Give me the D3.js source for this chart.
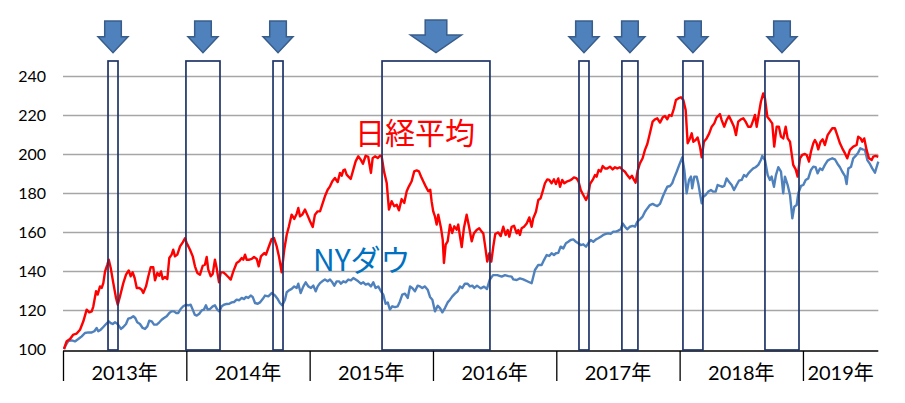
<!DOCTYPE html>
<html><head><meta charset="utf-8">
<script src="https://cdn.jsdelivr.net/npm/d3@7"></script>
<style>html,body{margin:0;padding:0;background:#fff;}svg{display:block;}</style>
</head><body>
<svg id="chart" width="905" height="403"></svg>
<script>
// ---- data ----
const yTicks = [100, 120, 140, 160, 180, 200, 220, 240];
const yearStarts = [2013, 2014, 2015, 2016, 2017, 2018, 2019];
const yearLabels = ["2013年", "2014年", "2015年", "2016年", "2017年", "2018年", "2019年"];
const seriesNames = ["日経平均", "NYダウ"];
const dataEnd = 2019.611;

const nikkeiT = [2013.008,2013.030,2013.057,2013.084,2013.111,2013.138,2013.165,2013.192,2013.213,2013.233,2013.246,2013.268,2013.281,2013.300,2013.314,2013.327,2013.341,2013.359,2013.371,2013.387,2013.408,2013.430,2013.444,2013.462,2013.489,2013.511,2013.533,2013.549,2013.565,2013.581,2013.598,2013.619,2013.638,2013.651,2013.673,2013.692,2013.711,2013.732,2013.746,2013.765,2013.781,2013.795,2013.808,2013.827,2013.846,2013.862,2013.881,2013.894,2013.908,2013.927,2013.949,2013.971,2013.989,2014.003,2014.030,2014.052,2014.070,2014.089,2014.111,2014.133,2014.151,2014.165,2014.178,2014.198,2014.214,2014.232,2014.246,2014.265,2014.279,2014.300,2014.322,2014.340,2014.360,2014.381,2014.408,2014.429,2014.449,2014.462,2014.476,2014.489,2014.511,2014.530,2014.549,2014.571,2014.587,2014.605,2014.619,2014.632,2014.646,2014.665,2014.692,2014.711,2014.733,2014.751,2014.773,2014.794,2014.814,2014.832,2014.854,2014.875,2014.895,2014.908,2014.922,2014.940,2014.962,2014.984,2015.003,2015.025,2015.043,2015.065,2015.084,2015.102,2015.124,2015.146,2015.165,2015.184,2015.205,2015.227,2015.246,2015.260,2015.273,2015.286,2015.300,2015.313,2015.333,2015.354,2015.373,2015.394,2015.414,2015.432,2015.454,2015.475,2015.497,2015.511,2015.530,2015.552,2015.570,2015.584,2015.603,2015.625,2015.643,2015.665,2015.686,2015.706,2015.724,2015.746,2015.767,2015.787,2015.805,2015.827,2015.848,2015.868,2015.886,2015.903,2015.921,2015.941,2015.962,2015.978,2015.989,2016.002,2016.016,2016.030,2016.043,2016.065,2016.079,2016.089,2016.103,2016.119,2016.138,2016.156,2016.173,2016.192,2016.205,2016.219,2016.233,2016.251,2016.273,2016.292,2016.314,2016.332,2016.354,2016.375,2016.395,2016.408,2016.422,2016.440,2016.457,2016.473,2016.489,2016.505,2016.529,2016.549,2016.570,2016.589,2016.606,2016.619,2016.638,2016.657,2016.679,2016.692,2016.705,2016.719,2016.738,2016.760,2016.781,2016.800,2016.813,2016.835,2016.854,2016.873,2016.889,2016.908,2016.927,2016.943,2016.962,2016.981,2016.997,2017.016,2017.030,2017.048,2017.065,2017.084,2017.106,2017.125,2017.143,2017.165,2017.181,2017.198,2017.219,2017.241,2017.259,2017.273,2017.295,2017.314,2017.327,2017.343,2017.360,2017.376,2017.395,2017.413,2017.435,2017.457,2017.476,2017.494,2017.516,2017.538,2017.557,2017.575,2017.597,2017.613,2017.630,2017.643,2017.660,2017.678,2017.700,2017.719,2017.738,2017.759,2017.781,2017.800,2017.819,2017.841,2017.863,2017.881,2017.900,2017.916,2017.935,2017.954,2017.970,2017.989,2018.011,2018.030,2018.049,2018.065,2018.084,2018.098,2018.111,2018.130,2018.146,2018.165,2018.179,2018.197,2018.219,2018.240,2018.260,2018.281,2018.300,2018.313,2018.327,2018.341,2018.362,2018.381,2018.400,2018.422,2018.441,2018.457,2018.475,2018.497,2018.516,2018.535,2018.556,2018.578,2018.597,2018.611,2018.625,2018.643,2018.659,2018.678,2018.692,2018.711,2018.732,2018.751,2018.767,2018.787,2018.805,2018.822,2018.840,2018.860,2018.876,2018.895,2018.908,2018.921,2018.941,2018.957,2018.976,2018.994,2019.016,2019.030,2019.049,2019.065,2019.084,2019.097,2019.111,2019.124,2019.143,2019.160,2019.178,2019.200,2019.219,2019.238,2019.259,2019.278,2019.300,2019.319,2019.341,2019.359,2019.381,2019.408,2019.435,2019.448,2019.468,2019.481,2019.497,2019.516,2019.535,2019.557,2019.570,2019.589,2019.611];
const nikkeiV = [100,104,105.1,107.4,107.9,109.9,114.2,120.2,118.8,119.3,121.9,129.6,127.9,132.1,131.3,133.8,139.8,143.2,145.8,141.5,133.8,126.2,122.7,127,133.8,138.1,140.3,137.3,139.3,136.4,131.3,131.3,130.4,128.7,132.1,137.3,141.9,141.9,135.2,139,137.6,139.8,135.9,136.9,135.9,146.7,148.4,150.9,147.5,148.4,152.6,154.7,156.8,154.4,150.9,147.5,142.4,139,138.1,142.7,143.2,147.2,140.7,137.3,138.5,145.8,141.5,134.2,139.3,139.3,138.1,136.9,135.6,139.8,144.1,145,146.7,145.8,148.4,145.8,145.8,146.2,147.2,146.2,142.4,147.5,148.4,149.2,148.4,151.8,156.4,156.9,152.6,147.5,139.3,150.9,158.6,162.9,168.9,166.7,169.4,172.3,168,168.9,171.5,168.4,165.5,162.6,168.9,170.6,170.6,174,178.3,181.7,183.4,186,187.7,185.6,190.3,188.9,191.6,192,189.4,188.5,187.2,192,196.2,198.8,197.1,195,199.1,198.5,190.3,197.9,198.8,197.9,199.1,198.8,191.1,185.1,171.5,175.8,173.2,174,171.1,176.9,174.9,180.9,183.4,186,191.1,191.6,191.1,188.5,186,183.4,180.9,181.7,175.7,170.6,168,163.8,168.9,162.1,156.1,144.1,153.5,155.2,163.8,159.5,162.9,161.2,163.8,157.8,152.3,162.1,168.9,162.9,155.2,159.3,161,161.9,160.2,159.3,153.3,144.8,149.1,144.8,152.5,159,159.8,157.9,162.7,158.5,161,157.6,162.7,163.2,159.3,161,158.5,161.9,162.7,164.4,167.5,162.7,167,170.4,176.4,177.3,180.7,185,187,186.7,185,187,184.6,187.5,183.2,186.7,185,185.8,186.3,187,188,187.5,185.8,181.5,179,176.4,179,184.6,186.7,189.2,188.4,191.8,191,193.8,192.6,192.6,193.5,192.1,193.2,192.6,193.2,191.8,190.9,189.2,187.5,188.9,186.7,185.3,191.5,195.2,197.8,202.1,205.1,210.6,216.6,217.8,218.3,216.1,218.8,219.5,217.8,220,219.5,223.4,227.7,228.5,229.1,227.7,222.6,205.5,208,210.6,206.3,207.2,208.5,203.8,198.3,206.3,208,210.6,214,215.7,218.8,219.5,220.5,217.4,214,217.4,219.5,216.6,214,209.7,216.6,217.8,218.3,216.6,214,214,217.4,220,214,220.9,226.8,231.1,228.5,219.1,217.4,215.7,203.8,214,214,208.9,208,214,208,206.3,200.3,194.4,192.1,188.4,197.8,199.5,200,199.5,196.1,201.2,205.5,207.2,205.5,202.4,206.3,207.5,204.6,209.7,211.5,213.2,213.2,209.7,205.5,202.9,200.3,197.8,202.1,203.8,204.6,208.9,208,206.3,208,202.1,197.8,196.9,198.6,199,198.6];

const dowT = [2013.008,2013.024,2013.043,2013.071,2013.097,2013.124,2013.152,2013.178,2013.205,2013.233,2013.254,2013.273,2013.286,2013.306,2013.327,2013.349,2013.371,2013.387,2013.403,2013.422,2013.440,2013.456,2013.470,2013.489,2013.511,2013.529,2013.549,2013.570,2013.586,2013.602,2013.624,2013.646,2013.665,2013.684,2013.700,2013.719,2013.738,2013.760,2013.781,2013.800,2013.819,2013.841,2013.862,2013.881,2013.900,2013.916,2013.935,2013.954,2013.975,2013.997,2014.016,2014.035,2014.052,2014.068,2014.084,2014.105,2014.125,2014.143,2014.159,2014.173,2014.192,2014.214,2014.232,2014.251,2014.267,2014.287,2014.305,2014.327,2014.348,2014.368,2014.387,2014.408,2014.429,2014.449,2014.468,2014.484,2014.502,2014.522,2014.538,2014.557,2014.579,2014.597,2014.619,2014.638,2014.665,2014.692,2014.719,2014.741,2014.759,2014.778,2014.800,2014.814,2014.832,2014.854,2014.875,2014.895,2014.908,2014.927,2014.949,2014.968,2014.989,2015.011,2015.030,2015.049,2015.065,2015.084,2015.102,2015.124,2015.146,2015.165,2015.184,2015.200,2015.219,2015.238,2015.254,2015.273,2015.292,2015.313,2015.335,2015.354,2015.373,2015.394,2015.416,2015.435,2015.454,2015.475,2015.497,2015.516,2015.535,2015.556,2015.578,2015.597,2015.616,2015.633,2015.651,2015.670,2015.692,2015.714,2015.732,2015.751,2015.773,2015.795,2015.814,2015.832,2015.854,2015.876,2015.895,2015.913,2015.935,2015.957,2015.976,2015.995,2016.016,2016.038,2016.057,2016.076,2016.097,2016.119,2016.138,2016.157,2016.178,2016.200,2016.219,2016.238,2016.259,2016.281,2016.300,2016.319,2016.335,2016.357,2016.387,2016.414,2016.438,2016.460,2016.487,2016.522,2016.557,2016.584,2016.611,2016.638,2016.651,2016.679,2016.705,2016.732,2016.773,2016.800,2016.827,2016.854,2016.881,2016.900,2016.922,2016.943,2016.962,2016.981,2016.997,2017.016,2017.035,2017.057,2017.078,2017.097,2017.116,2017.138,2017.159,2017.178,2017.198,2017.219,2017.241,2017.259,2017.279,2017.300,2017.322,2017.340,2017.360,2017.381,2017.403,2017.421,2017.441,2017.462,2017.484,2017.502,2017.522,2017.538,2017.557,2017.575,2017.597,2017.619,2017.638,2017.657,2017.678,2017.700,2017.719,2017.738,2017.759,2017.781,2017.800,2017.819,2017.841,2017.863,2017.881,2017.900,2017.922,2017.940,2017.954,2017.976,2017.997,2018.022,2018.038,2018.057,2018.076,2018.092,2018.102,2018.119,2018.138,2018.151,2018.165,2018.179,2018.192,2018.211,2018.232,2018.254,2018.273,2018.292,2018.308,2018.327,2018.346,2018.362,2018.381,2018.400,2018.422,2018.441,2018.462,2018.481,2018.503,2018.522,2018.540,2018.557,2018.578,2018.597,2018.616,2018.638,2018.659,2018.670,2018.692,2018.714,2018.732,2018.746,2018.765,2018.781,2018.800,2018.822,2018.840,2018.854,2018.876,2018.895,2018.914,2018.930,2018.949,2018.962,2018.984,2019.003,2019.022,2019.043,2019.065,2019.084,2019.103,2019.119,2019.138,2019.157,2019.178,2019.200,2019.219,2019.238,2019.259,2019.281,2019.300,2019.319,2019.341,2019.354,2019.368,2019.390,2019.408,2019.427,2019.448,2019.465,2019.484,2019.503,2019.522,2019.543,2019.562,2019.584,2019.597,2019.611];
const dowV = [100,102.2,104,104.4,103.9,105.1,106.5,108.2,108.5,108.5,109.1,110.8,109.1,109.9,111.3,112.8,114.2,113.3,112.8,113.7,113,111.6,110.3,111.3,112.8,115.6,115.9,116.8,115.9,113.7,112.8,110.8,110.3,111.6,114.5,114.2,112.5,112.5,113.7,115,115.9,116.8,118.5,119.3,119.3,118.5,118.5,120.5,121.9,122.7,122.4,122.7,120.2,117.6,117.1,118.1,119.8,120.2,122.4,120.2,120.5,121.9,122.4,120.2,119.3,121.9,122.7,123.1,123.2,123.9,124.1,125.3,125,126.2,125.6,126.7,126.2,127.4,126.7,123.6,123.2,123.9,125.6,127.4,127,128.7,127.4,125.6,123.6,122.4,125.3,129.1,130.1,130.8,132.1,131.3,133.5,128.7,132.1,134.2,132.1,131.3,132.5,129.6,132.1,133.8,134.7,135.6,134.7,135.6,134.2,132.5,134.7,134.7,133.5,134.7,134.2,135.6,135.2,136.4,135.6,134.7,133.5,134.2,133,133.5,132.1,134.2,131.3,132.1,129.6,127.9,123.2,123.9,120.2,121.9,121.5,121.9,124.4,127.9,128.4,126.2,132.1,131.3,129.6,132.5,132.1,131.3,132.1,130.4,126.7,125.3,119.3,122.2,121,118.8,121,123.9,125.3,127,128.4,129.6,132.1,131.3,133.5,133.5,132.1,132.5,131.3,132.5,131.1,132,130.8,135.5,137.9,137.9,137.1,137.9,137.4,137.1,135.7,135.4,136.2,135.7,134.5,133.7,140.5,143.1,143.1,145.6,148.2,147.7,149.1,148.2,149.1,149.3,152.5,151.6,154.2,155,155.9,156.2,155,154.2,153.3,153.7,152.5,154.2,155.9,155,156.2,156.8,157.6,158.5,159,159.3,159,160.2,160.2,160.7,161.4,164.4,162.7,161.4,162.7,163.1,162.7,165.3,166.5,167.9,170.4,172.1,173.8,174.4,173.8,173.3,174.4,178.1,180.7,183.2,183.6,185,187.5,190.9,194.4,198.3,191.8,179.8,186.7,188.4,182.4,188.4,188.4,185,179.8,174.7,178.1,179,180.7,181.5,180.7,180.7,184.1,183.6,183.2,183.6,187.5,185.8,184.1,181.5,184.1,186.3,186.7,189.2,188.4,190.1,191.5,192.6,193.2,194.4,196.9,199,196.9,189.2,186.7,188.4,183.2,189.2,193.2,191,179.8,188.4,184.1,179,167,173,173.8,179.8,183.6,184.1,186.7,187.5,191.8,193.5,193.2,190.1,192.6,191.8,194.4,196.6,197.3,197.8,197.3,194.9,193.2,190.9,188.7,184.6,192.6,193.5,197.8,199,200.7,202.9,202.4,202.1,196.9,194.9,192.6,190.4,193.2,196.1];

// highlighted periods (start, end in decimal years)
const periodStart = [2013.365, 2013.997, 2014.703, 2015.587, 2017.184, 2017.532, 2018.027, 2018.692];
const periodEnd   = [2013.446, 2014.273, 2014.784, 2016.462, 2017.265, 2017.662, 2018.189, 2018.968];

(function () {
// ---- chart ----
const svg = d3.select("#chart");
const pLeft = 63, pRight = 878.3, pTop = 76, pBottom = 349;
const x = d3.scaleLinear().domain([2013, dataEnd]).range([pLeft, pRight]);
const y = d3.scaleLinear().domain([100, 240]).range([pBottom, pTop]);
const latin = "Lato, 'Noto Sans CJK JP', sans-serif";

// gridlines
svg.append("g")
  .attr("transform", `translate(${pLeft},0)`)
  .call(d3.axisLeft(y).tickValues(yTicks.filter(v => v > 100)).tickSize(-(pRight - pLeft)).tickFormat(""))
  .call(g => g.select(".domain").remove())
  .call(g => g.selectAll("line").attr("stroke", "#a6a6a6").attr("stroke-width", 1.3));

// y labels
svg.append("g")
  .attr("transform", `translate(46,0)`)
  .call(d3.axisLeft(y).tickValues(yTicks).tickSize(0).tickPadding(0))
  .call(g => g.select(".domain").remove())
  .call(g => g.selectAll("text").attr("font-family", latin).attr("font-size", 16).attr("fill", "#000"));

// lines
const line = d3.line().x(d => x(d[0])).y(d => y(d[1]));
const dowData = dowT.map((t, i) => [t, dowV[i]]);
const nikData = nikkeiT.map((t, i) => [t, nikkeiV[i]]);
svg.append("path").datum(dowData).attr("d", line)
  .attr("fill", "none").attr("stroke", "#4f81bd").attr("stroke-width", 2.4).attr("stroke-linejoin", "round");
svg.append("path").datum(nikData).attr("d", line)
  .attr("fill", "none").attr("stroke", "#ff0000").attr("stroke-width", 2.4).attr("stroke-linejoin", "round");

// x axis with year separators
svg.append("g").attr("transform", `translate(0,351)`)
  .call(d3.axisBottom(x).tickValues(yearStarts).tickSize(30).tickFormat(""))
  .call(g => g.select(".domain").attr("stroke", "#000").attr("stroke-width", 1.5).attr("d", `M${pLeft},0H${pRight}`))
  .call(g => g.selectAll(".tick line").attr("stroke", "#000").attr("stroke-width", 1.3));
svg.append("g").selectAll("text").data(yearStarts).join("text")
  .attr("x", (d) => (x(d) + x(Math.min(d + 1, dataEnd))) / 2)
  .attr("y", 380)
  .attr("text-anchor", "middle")
  .attr("font-family", latin).attr("font-size", 20).attr("fill", "#000")
  .text((d, i) => yearLabels[i]);

// boxes
const boxTop = 61, boxBottom = 350;
svg.append("g").selectAll("rect").data(periodStart).join("rect")
  .attr("x", (d) => x(d))
  .attr("y", boxTop)
  .attr("width", (d, i) => x(periodEnd[i]) - x(d))
  .attr("height", boxBottom - boxTop)
  .attr("fill", "none").attr("stroke", "#1f3468").attr("stroke-width", 1.7);

// arrows
svg.append("g").selectAll("path").data(periodStart).join("path")
  .attr("d", (d, i) => {
    const cx = (x(d) + x(periodEnd[i])) / 2;
    const big = x(periodEnd[i]) - x(d) > 60;
    const sw = big ? 10.8 : 8.3, hw = big ? 25.5 : 15;
    const t0 = big ? 20 : 21, hy = big ? 35 : 36.7, tip = 52.7;
    return `M${cx - sw},${t0}H${cx + sw}V${hy}H${cx + hw}L${cx},${tip}L${cx - hw},${hy}H${cx - sw}Z`;
  })
  .attr("fill", "#4f81bd").attr("stroke", "#385d8a").attr("stroke-width", 1.5);

// series labels
svg.append("text").attr("x", 355).attr("y", 131).attr("dominant-baseline", "central")
  .attr("font-family", "'Noto Sans CJK JP', sans-serif").attr("font-size", 30).attr("fill", "#ff0000")
  .text(seriesNames[0]);
svg.append("text").attr("x", 313).attr("y", 258).attr("dominant-baseline", "central")
  .attr("font-family", "'Noto Sans CJK JP', sans-serif").attr("font-size", 30).attr("fill", "#0070c0")
  .text(seriesNames[1]);
})();
</script>
</body></html>
